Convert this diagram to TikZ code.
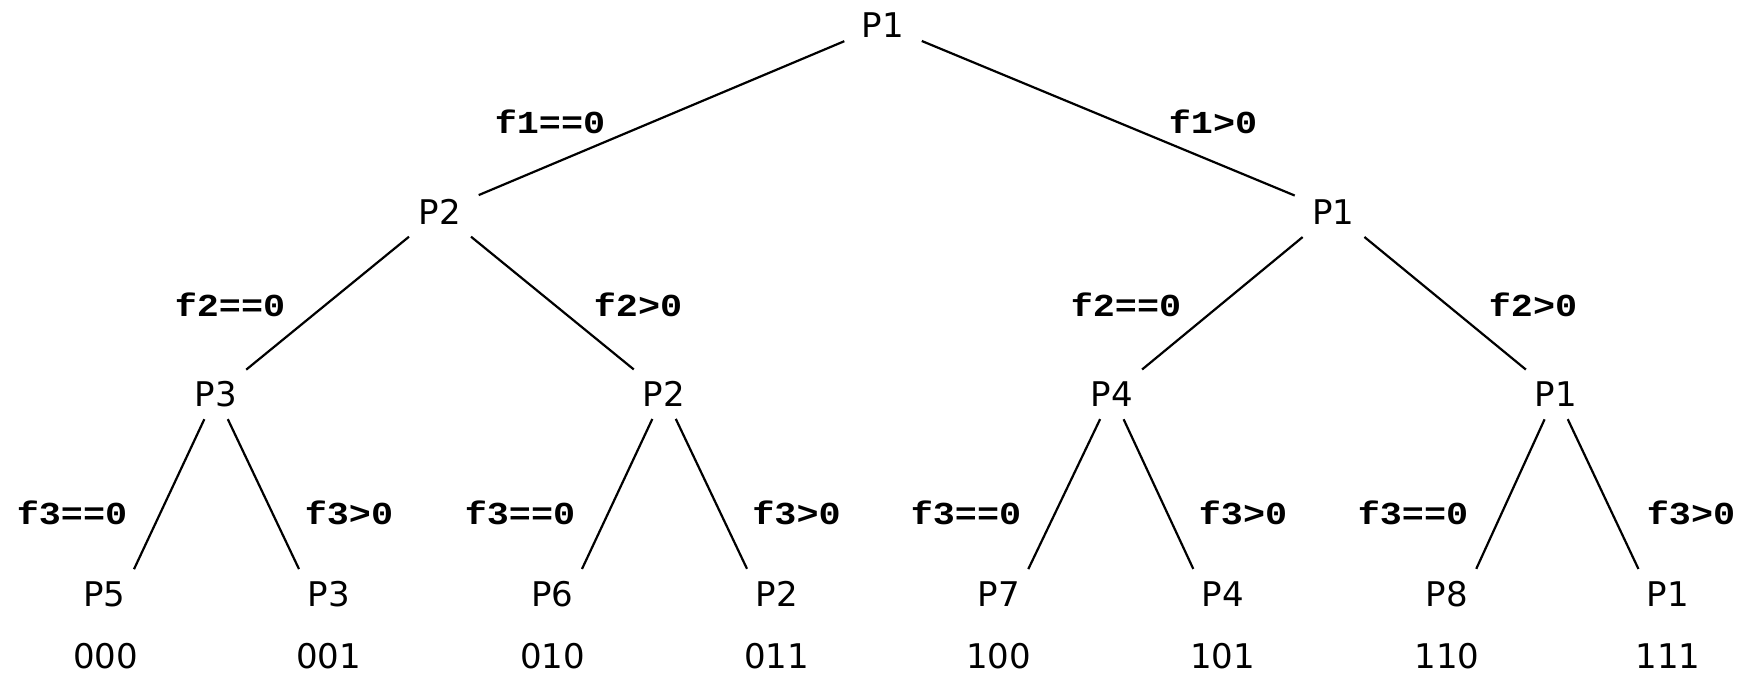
\documentclass[tikz,border=0pt]{standalone}
\usepackage{fontspec}
\setmainfont{DejaVu Sans}
\newfontfamily\lblfamily{Liberation Mono}[FakeStretch=1.15]
\newcommand{\pfont}{\fontsize{34}{38}\selectfont}
\newcommand{\lfont}{\lblfamily\bfseries\fontsize{32}{36}\selectfont}
\begin{document}
\begin{tikzpicture}[x=1pt,y=-1pt,
  pn/.style={font=\pfont, inner sep=0pt, anchor=base},
  lb/.style={font=\lfont, inner sep=0pt, anchor=base},
  edge/.style={line width=2.2pt, line cap=butt},
  ea/.style={edge, shorten <=42pt, shorten >=42pt},
  eb/.style={edge, shorten <=40pt, shorten >=39pt},
  ec/.style={edge, shorten <=27.5pt, shorten >=28pt}]
\useasboundingbox (0,0) rectangle (1744,673);
% nodes
\node[pn] (r) at (883,37.3) {P1};
\node[pn] (a) at (440,224) {P2};
\node[pn] (b) at (1333.5,224) {P1};
\node[pn] (c1) at (216,406.7) {P3};
\node[pn] (c2) at (664,406.7) {P2};
\node[pn] (c3) at (1112,406.7) {P4};
\node[pn] (c4) at (1556,406.7) {P1};
\node[pn] (d1) at (104.5,606.7) {P5};
\node[pn] (d2) at (328.6,606.7) {P3};
\node[pn] (d3) at (552.5,606.7) {P6};
\node[pn] (d4) at (776.6,606.7) {P2};
\node[pn] (d5) at (998.6,606.7) {P7};
\node[pn] (d6) at (1222.7,606.7) {P4};
\node[pn] (d7) at (1447,606.7) {P8};
\node[pn] (d8) at (1668,606.7) {P1};
% codes
\node[pn] (k1) at (105.5,668) {000};
\node[pn] (k2) at (328.6,668) {001};
\node[pn] (k3) at (552.5,668) {010};
\node[pn] (k4) at (776.6,668) {011};
\node[pn] (k5) at (998.6,668) {100};
\node[pn] (k6) at (1222.7,668) {101};
\node[pn] (k7) at (1447,668) {110};
\node[pn] (k8) at (1668,668) {111};
% labels
\node[lb] (la) at (550,133.3) {f1==0};
\node[lb] (lb) at (1213,133.3) {f1>0};
\node[lb] (lc1) at (230,316) {f2==0};
\node[lb] (lc2) at (638,316) {f2>0};
\node[lb] (lc3) at (1126,316) {f2==0};
\node[lb] (lc4) at (1533,316) {f2>0};
\node[lb] (ld1) at (72,524) {f3==0};
\node[lb] (ld2) at (349,524) {f3>0};
\node[lb] (ld3) at (520,524) {f3==0};
\node[lb] (ld4) at (796.5,524) {f3>0};
\node[lb] (ld5) at (966,524) {f3==0};
\node[lb] (ld6) at (1243,524) {f3>0};
\node[lb] (ld7) at (1413,524) {f3==0};
\node[lb] (ld8) at (1691,524) {f3>0};
% edges
\draw[ea] (r.center) -- (a.center);
\draw[ea] (r.center) -- (b.center);
\draw[eb] (a.center) -- (c1.center);
\draw[eb] (a.center) -- (c2.center);
\draw[eb] (b.center) -- (c3.center);
\draw[eb] (b.center) -- (c4.center);
\draw[ec] (c1.center) -- ([xshift=17.6pt]d1.center);
\draw[ec] (c1.center) -- ([xshift=-17.6pt]d2.center);
\draw[ec] (c2.center) -- ([xshift=17.6pt]d3.center);
\draw[ec] (c2.center) -- ([xshift=-17.6pt]d4.center);
\draw[ec] (c3.center) -- ([xshift=17.6pt]d5.center);
\draw[ec] (c3.center) -- ([xshift=-17.6pt]d6.center);
\draw[ec] (c4.center) -- ([xshift=17.6pt]d7.center);
\draw[ec] (c4.center) -- ([xshift=-17.6pt]d8.center);
\end{tikzpicture}
\end{document}
